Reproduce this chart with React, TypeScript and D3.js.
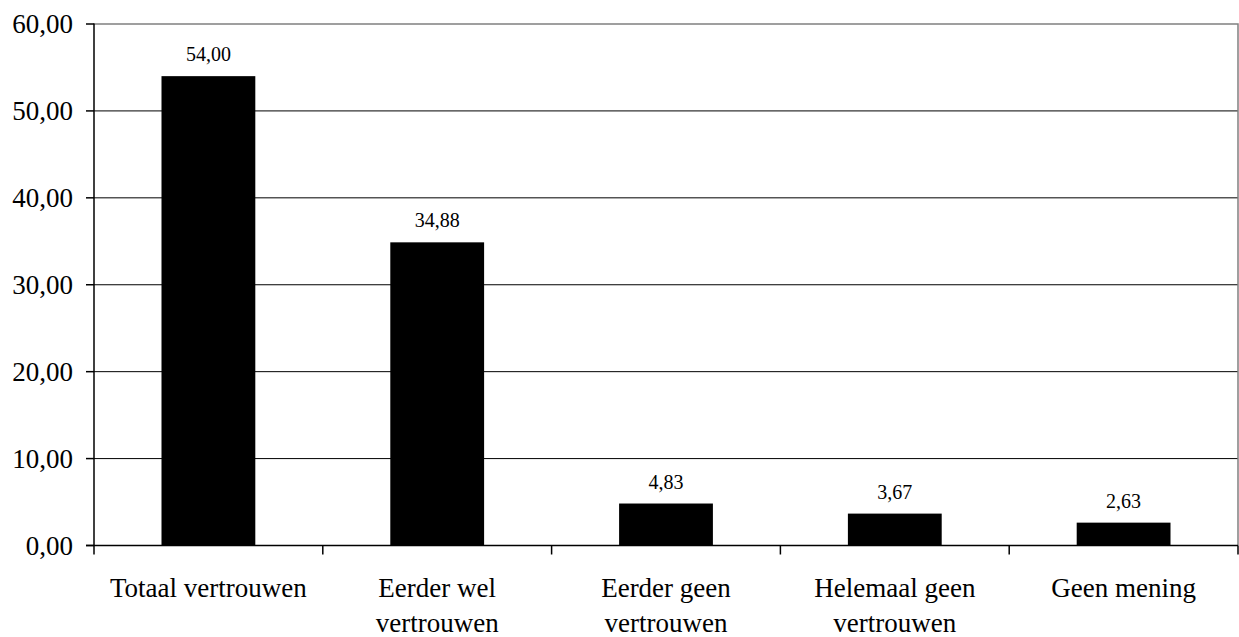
import React, { useEffect, useRef } from 'react';
import * as d3 from 'd3';

const categories = [
  'Totaal vertrouwen',
  'Eerder wel vertrouwen',
  'Eerder geen vertrouwen',
  'Helemaal geen vertrouwen',
  'Geen mening',
];
const values = [54.0, 34.88, 4.83, 3.67, 2.63];
const yTicks = [0, 10, 20, 30, 40, 50, 60];

const W = 1239;
const H = 637;
const left = 94;
const right = 1238;
const top = 24;
const bottom = 545.5;
const FONT = 'Liberation Serif';

const fmt = (v: number) => d3.format('.2f')(v).replace('.', ',');

export default function App() {
  const ref = useRef<SVGSVGElement | null>(null);

  useEffect(() => {
    const svg = d3.select(ref.current);
    svg.selectAll('*').remove();

    const x = d3
      .scaleBand<string>()
      .domain(categories)
      .range([left, right])
      .paddingInner(0.59)
      .paddingOuter(0.295);
    const y = d3.scaleLinear().domain([0, 60]).range([bottom, top]);
    const step = x.step();
    const boundaries = d3.range(categories.length + 1).map((i) => left + i * step);

    // gridlines
    svg
      .append('g')
      .selectAll('line')
      .data(yTicks.slice(1, -1))
      .join('line')
      .attr('x1', left)
      .attr('x2', right)
      .attr('y1', (d) => y(d))
      .attr('y2', (d) => y(d))
      .attr('stroke', '#000')
      .attr('stroke-width', 1);

    // plot border top/right
    svg
      .append('path')
      .attr('d', `M${left},${y(60)}H${right}V${bottom}`)
      .attr('fill', 'none')
      .attr('stroke', '#808080')
      .attr('stroke-width', 1.5);

    // bars
    svg
      .append('g')
      .selectAll('rect')
      .data(categories)
      .join('rect')
      .attr('x', (d) => x(d) as number)
      .attr('y', (d, i) => y(values[i]))
      .attr('width', x.bandwidth())
      .attr('height', (d, i) => bottom - y(values[i]))
      .attr('fill', '#000');

    // value labels
    svg
      .append('g')
      .selectAll('text')
      .data(categories)
      .join('text')
      .attr('x', (d) => (x(d) as number) + x.bandwidth() / 2)
      .attr('y', (d, i) => y(values[i]) - 15)
      .attr('text-anchor', 'middle')
      .attr('font-family', FONT)
      .attr('font-size', 20)
      .attr('fill', '#000')
      .text((d, i) => fmt(values[i]));

    // y axis
    const ya = svg.append('g');
    ya.append('line')
      .attr('x1', left)
      .attr('x2', left)
      .attr('y1', top - 0.5)
      .attr('y2', bottom + 0.5)
      .attr('stroke', '#000')
      .attr('stroke-width', 1.5);
    ya.selectAll('line.tick')
      .data(yTicks)
      .join('line')
      .attr('class', 'tick')
      .attr('x1', left - 8)
      .attr('x2', left)
      .attr('y1', (d) => y(d))
      .attr('y2', (d) => y(d))
      .attr('stroke', '#000')
      .attr('stroke-width', 1.5);
    ya.selectAll('text')
      .data(yTicks)
      .join('text')
      .attr('x', 73)
      .attr('y', (d) => y(d) + 9)
      .attr('text-anchor', 'end')
      .attr('font-family', FONT)
      .attr('font-size', 27)
      .attr('fill', '#000')
      .text((d) => fmt(d));

    // x axis
    const xa = svg.append('g');
    xa.append('line')
      .attr('x1', left - 8)
      .attr('x2', right)
      .attr('y1', bottom)
      .attr('y2', bottom)
      .attr('stroke', '#000')
      .attr('stroke-width', 1.5);
    xa.selectAll('line.tick')
      .data(boundaries)
      .join('line')
      .attr('class', 'tick')
      .attr('x1', (d) => d)
      .attr('x2', (d) => d)
      .attr('y1', bottom)
      .attr('y2', bottom + 9)
      .attr('stroke', '#000')
      .attr('stroke-width', 1.5);

    xa.selectAll('text')
      .data(categories)
      .join('text')
      .attr('text-anchor', 'middle')
      .attr('font-family', FONT)
      .attr('font-size', 27)
      .attr('fill', '#000')
      .each(function (d) {
        const t = d3.select(this);
        const cx = (x(d) as number) + x.bandwidth() / 2;
        const words = d.split(' ');
        let line: string[] = [];
        let lineNo = 0;
        let tspan = t.append('tspan').attr('x', cx).attr('y', bottom + 51.5);
        for (const w of words) {
          line.push(w);
          tspan.text(line.join(' '));
          const node = tspan.node() as SVGTSpanElement;
          if (node.getComputedTextLength() > step && line.length > 1) {
            line.pop();
            tspan.text(line.join(' '));
            line = [w];
            lineNo++;
            tspan = t
              .append('tspan')
              .attr('x', cx)
              .attr('y', bottom + 51.5 + lineNo * 34.5)
              .text(w);
          }
        }
      });
  }, []);

  return (
    <svg
      ref={ref}
      width={W}
      height={H}
      style={{ position: 'absolute', left: 0, top: 0, background: '#fff' }}
    />
  );
}
